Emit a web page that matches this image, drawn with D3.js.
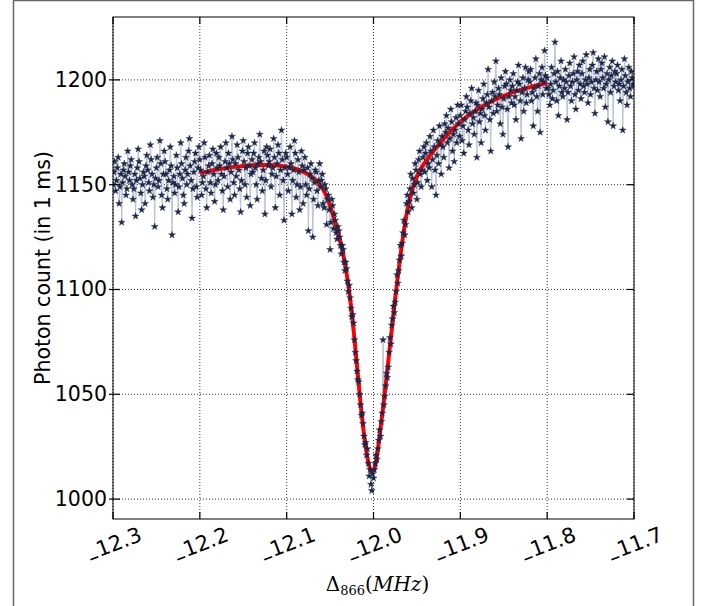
<!DOCTYPE html>
<html>
<head>
<meta charset="utf-8">
<script src="https://cdn.jsdelivr.net/npm/d3@7"></script>
<style>
  body { margin: 0; background: #fff; }
  svg { display: block; font-family: 'DejaVu Sans', sans-serif; }
</style>
</head>
<body>
<svg id="chart" width="707" height="606"></svg>
<script>
// scan: detuning starts at -12.3 MHz, one point per kHz
var xStart = -12.3
var xStep = 0.001

// photon counts, 20 points per row (0.02 MHz)
var counts = [
  1150,1156,1161,1147,1152,1158,1163,1141,1149,1155,1132,1151,1157,1160,1154,1145,1148,1166,1156,1152,
  1159,1162,1150,1143,1148,1155,1135,1152,1158,1167,1161,1153,1146,1138,1150,1156,1154,1141,1159,1164,
  1157,1151,1147,1169,1162,1155,1144,1150,1130,1153,1158,1163,1149,1152,1171,1160,1145,1139,1155,1166,
  1161,1155,1148,1143,1152,1157,1168,1159,1126,1151,1154,1146,1150,1164,1158,1137,1149,1155,1170,1160,
  1153,1145,1141,1157,1163,1150,1155,1166,1172,1159,1152,1134,1148,1156,1161,1165,1149,1144,1158,1168,
  1162,1157,1145,1151,1154,1170,1163,1148,1139,1156,1159,1164,1151,1146,1160,1167,1155,1142,1150,1165,
  1158,1152,1163,1159,1168,1155,1147,1138,1154,1161,1170,1158,1149,1165,1160,1143,1156,1173,1162,1151,
  1145,1160,1154,1169,1163,1157,1148,1137,1152,1166,1171,1161,1150,1158,1144,1165,1168,1159,1140,1155,
  1162,1156,1165,1170,1158,1150,1143,1160,1163,1174,1161,1153,1147,1157,1166,1136,1152,1168,1164,1159,
  1161,1167,1149,1155,1158,1172,1163,1139,1154,1160,1169,1165,1145,1157,1176,1162,1152,1133,1158,1165,
  1163,1155,1147,1158,1168,1160,1136,1152,1157,1171,1165,1144,1150,1162,1156,1138,1149,1166,1159,1141,
  1157,1163,1150,1145,1158,1128,1148,1155,1160,1153,1125,1143,1151,1157,1156,1147,1140,1152,1160,1149,
  1152,1155,1141,1139,1150,1148,1131,1143,1145,1138,1119,1132,1143,1140,1129,1136,1133,1127,1124,1130,
  1128,1125,1121,1117,1121,1119,1113,1109,1113,1110,1104,1099,1102,1096,1091,1087,1088,1084,1076,1070,
  1066,1061,1057,1056,1050,1045,1040,1041,1036,1030,1026,1027,1021,1024,1017,1011,1014,1007,1004,1012,
  1010,1014,1017,1021,1019,1024,1028,1033,1030,1037,1041,1076,1045,1049,1054,1060,1058,1063,1070,1077,
  1074,1083,1086,1092,1089,1094,1099,1107,1103,1109,1114,1121,1116,1122,1127,1133,1126,1131,1141,1145,
  1137,1142,1148,1155,1139,1153,1146,1150,1160,1157,1143,1151,1162,1166,1155,1149,1157,1163,1168,1156,
  1165,1170,1152,1160,1158,1173,1166,1149,1162,1176,1168,1157,1145,1164,1171,1160,1178,1169,1155,1173,
  1168,1163,1179,1175,1183,1170,1177,1158,1172,1186,1180,1166,1174,1161,1176,1182,1170,1188,1179,1173,
  1183,1188,1171,1178,1165,1181,1185,1192,1187,1176,1169,1184,1190,1196,1179,1182,1174,1185,1189,1163,
  1188,1195,1180,1184,1170,1186,1191,1198,1183,1176,1189,1193,1205,1187,1181,1166,1190,1194,1184,1199,
  1192,1209,1185,1188,1196,1193,1179,1201,1187,1174,1191,1197,1204,1198,1186,1168,1192,1200,1195,1189,
  1197,1203,1188,1192,1181,1195,1199,1207,1198,1190,1172,1194,1201,1185,1196,1206,1189,1193,1200,1204,
  1199,1205,1190,1194,1178,1196,1201,1210,1192,1185,1197,1203,1175,1200,1206,1193,1199,1214,1202,1196,
  1201,1196,1193,1188,1198,1206,1191,1195,1203,1218,1199,1190,1204,1183,1197,1201,1209,1194,1192,1200,
  1196,1205,1199,1181,1194,1202,1208,1197,1190,1199,1203,1211,1193,1186,1200,1204,1195,1207,1198,1191,
  1203,1209,1197,1194,1200,1212,1198,1189,1201,1205,1193,1199,1207,1213,1196,1184,1200,1204,1195,1210,
  1199,1192,1205,1208,1201,1196,1211,1187,1198,1203,1180,1200,1206,1194,1202,1209,1178,1197,1204,1199,
  1203,1207,1195,1198,1190,1200,1205,1176,1197,1210,1202,1194,1188,1199,1206,1196,1192,1204,1201,1198,
  1197
]

// fitted line shape
var fitX = [-12.200, -12.180, -12.160, -12.140, -12.120, -12.100, -12.090, -12.080, -12.070, -12.060,
  -12.055, -12.050, -12.045, -12.040, -12.035, -12.030, -12.025, -12.020, -12.015, -12.010,
  -12.005, -12.002, -12.000, -11.997, -11.993, -11.990, -11.985, -11.980, -11.975, -11.970,
  -11.965, -11.960, -11.955, -11.950, -11.945, -11.940, -11.930, -11.920, -11.910, -11.900,
  -11.880, -11.860, -11.840, -11.820, -11.800]
var fitY = [1155.5, 1157.2, 1158.5, 1159.3, 1159.4, 1158.6, 1157.6, 1156.0, 1153.5, 1149.0,
  1145.5, 1140.0, 1133.0, 1126.0, 1117.0, 1105.0, 1089.0, 1068.0, 1046.0, 1028.0,
  1016.0, 1013.0, 1013.5, 1018.0, 1030.0, 1040.0, 1058.0, 1077.0, 1096.0, 1113.0,
  1128.0, 1140.0, 1148.0, 1154.0, 1158.0, 1161.0, 1166.5, 1171.5, 1176.0, 1180.0,
  1186.0, 1190.5, 1194.0, 1196.5, 1198.5]

var xTicks = [-12.3, -12.2, -12.1, -12.0, -11.9, -11.8, -11.7]
var yTicks = [1000, 1050, 1100, 1150, 1200]

var svg = d3.select('#chart'),
  margin = {top: 17, right: 73, bottom: 87, left: 113},
  width = +svg.attr('width') - margin.left - margin.right,
  height = +svg.attr('height') - margin.top - margin.bottom

var x = d3.scaleLinear().domain([-12.3, -11.7]).range([0, width]),
  y = d3.scaleLinear().domain([990.5, 1230]).range([height, 0])

var data = counts.map(function (c, i) {
  return {x: xStart + i * xStep, y: c}
})
var fit = fitX.map(function (d, i) { return {x: d, y: fitY[i]} })

// outer figure frame
svg.append('rect')
  .attr('x', 13.5).attr('y', 0.5)
  .attr('width', 680).attr('height', 640)
  .attr('fill', 'none')
  .attr('stroke', '#666')
  .attr('stroke-width', 1.5)

svg.append('defs').append('clipPath')
  .attr('id', 'plotclip')
  .append('rect')
  .attr('width', width).attr('height', height)

var g = svg.append('g')
  .attr('transform', 'translate(' + margin.left + ',' + margin.top + ')')

// grid
g.append('g')
  .selectAll('line')
  .data(xTicks)
  .enter().append('line')
  .attr('x1', function (d) { return x(d) })
  .attr('x2', function (d) { return x(d) })
  .attr('y1', 0).attr('y2', height)
  .attr('stroke', '#000')
  .attr('stroke-width', 0.8)
  .style('stroke-dasharray', '1, 2')

g.append('g')
  .selectAll('line')
  .data(yTicks)
  .enter().append('line')
  .attr('y1', function (d) { return y(d) })
  .attr('y2', function (d) { return y(d) })
  .attr('x1', 0).attr('x2', width)
  .attr('stroke', '#000')
  .attr('stroke-width', 0.8)
  .style('stroke-dasharray', '1, 2')

var plot = g.append('g').attr('clip-path', 'url(#plotclip)')

var line = d3.line()
  .x(function (d) { return x(d.x) })
  .y(function (d) { return y(d.y) })

plot.append('path')
  .datum(data)
  .attr('d', line)
  .attr('fill', 'none')
  .attr('stroke', '#b9c3d3')
  .attr('stroke-width', 1)

plot.append('path')
  .datum(fit)
  .attr('d', line.curve(d3.curveMonotoneX))
  .attr('fill', 'none')
  .attr('stroke', '#ff0000')
  .attr('stroke-width', 4)
  .attr('stroke-linejoin', 'round')

var star = d3.symbol().type(d3.symbolStar).size(15)

plot.append('g')
  .selectAll('path')
  .data(data)
  .enter().append('path')
  .attr('d', star)
  .attr('transform', function (d) {
    return 'translate(' + x(d.x) + ',' + y(d.y) + ')'
  })
  .attr('fill', '#1d2748')
  .attr('stroke', '#1d2748')
  .attr('stroke-width', 0.4)

// frame and inner ticks on all four sides
g.append('rect')
  .attr('width', width).attr('height', height)
  .attr('fill', 'none')
  .attr('stroke', '#000')
  .attr('stroke-width', 1)

var ticks = g.append('g').attr('stroke', '#000').attr('stroke-width', 1.2)
xTicks.forEach(function (d) {
  ticks.append('line').attr('x1', x(d)).attr('x2', x(d)).attr('y1', height).attr('y2', height - 7)
  ticks.append('line').attr('x1', x(d)).attr('x2', x(d)).attr('y1', 0).attr('y2', 7)
})
yTicks.forEach(function (d) {
  ticks.append('line').attr('y1', y(d)).attr('y2', y(d)).attr('x1', -4).attr('x2', 7)
  ticks.append('line').attr('y1', y(d)).attr('y2', y(d)).attr('x1', width).attr('x2', width - 7)
})

// tick labels, minus sits low like the original
var fmt = d3.format('.1f')
var xl = g.append('g')
  .selectAll('text')
  .data(xTicks)
  .enter().append('text')
  .attr('transform', function (d) {
    return 'translate(' + (x(d) + 1) + ',' + (height + 25) + ') rotate(-21)'
  })
  .attr('text-anchor', 'middle')
  .attr('dominant-baseline', 'central')
  .attr('font-size', 21)
  .attr('fill', '#000')
xl.append('tspan').attr('dy', 5).text('\u2013')
xl.append('tspan').attr('dy', -5).text(function (d) { return fmt(Math.abs(d)) })

g.append('g')
  .selectAll('text')
  .data(yTicks)
  .enter().append('text')
  .attr('x', -6)
  .attr('y', function (d) { return y(d) })
  .attr('text-anchor', 'end')
  .attr('dominant-baseline', 'central')
  .attr('font-size', 20.5)
  .attr('fill', '#000')
  .text(function (d) { return d })

// axis titles
g.append('text')
  .attr('transform', 'translate(' + (-63) + ',' + (height / 2) + ') rotate(-90)')
  .attr('text-anchor', 'middle')
  .attr('font-size', 20.5)
  .attr('fill', '#000')
  .text('Photon count (in 1 ms)')

var xt = g.append('text')
  .attr('x', width / 2 + 4)
  .attr('y', height + 72)
  .attr('text-anchor', 'middle')
  .attr('font-family', "'DejaVu Serif', serif")
  .attr('font-size', 20)
  .attr('fill', '#000')
xt.append('tspan').text('\u0394')
xt.append('tspan').attr('font-size', 13).attr('dy', 4).text('866')
xt.append('tspan').attr('dy', -4).text('(')
xt.append('tspan').attr('font-style', 'italic').text('MHz')
xt.append('tspan').text(')')
</script>
</body>
</html>
